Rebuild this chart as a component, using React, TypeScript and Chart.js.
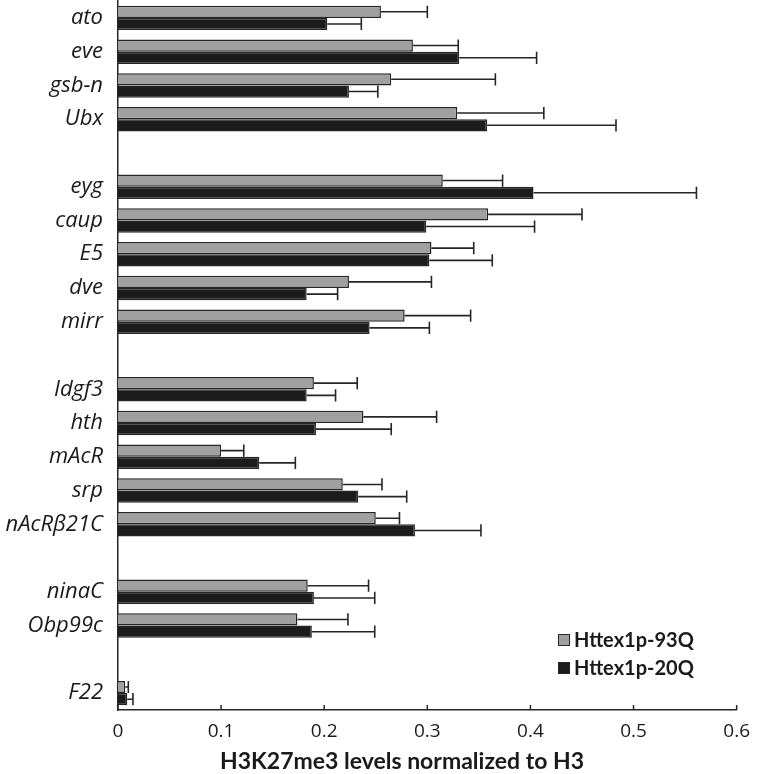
import React, { useEffect, useRef } from "react";
import { Chart, registerables } from "chart.js";

Chart.register(...registerables);

const genes = ["ato", "eve", "gsb-n", "Ubx", "", "eyg", "caup", "E5", "dve", "mirr", "", "Idgf3", "hth", "mAcR", "srp", "nAcRβ21C", "", "ninaC", "Obp99c", "", "F22"];
const q93 = [0.255, 0.286, 0.265, 0.329, null, 0.315, 0.359, 0.304, 0.224, 0.278, null, 0.19, 0.238, 0.1, 0.218, 0.25, null, 0.184, 0.174, null, 0.007];
const q93Err = [0.045, 0.044, 0.101, 0.084, null, 0.058, 0.091, 0.041, 0.08, 0.064, null, 0.042, 0.071, 0.022, 0.038, 0.023, null, 0.059, 0.049, null, 0.003];
const q20 = [0.203, 0.331, 0.224, 0.358, null, 0.403, 0.299, 0.302, 0.183, 0.244, null, 0.183, 0.192, 0.137, 0.233, 0.288, null, 0.19, 0.188, null, 0.009];
const q20Err = [0.033, 0.075, 0.028, 0.125, null, 0.158, 0.105, 0.061, 0.03, 0.058, null, 0.028, 0.073, 0.035, 0.047, 0.064, null, 0.059, 0.061, null, 0.0055];
const seriesNames = ["Httex1p-93Q", "Httex1p-20Q"];
const seriesColors = ["#a0a0a0", "#1c1c1c"];
const xTicks = [0, 0.1, 0.2, 0.3, 0.4, 0.5, 0.6];
const axisTitle = "H3K27me3 levels normalized to H3";

const errs = [q93Err, q20Err];
const INK = "#262626";

const errorBarPlugin = {
  id: "errorBars",
  afterDatasetsDraw(chart: any) {
    const ctx = chart.ctx;
    const xs = chart.scales.x;
    ctx.save();
    ctx.strokeStyle = INK;
    ctx.lineWidth = 1.6;
    chart.data.datasets.forEach((ds: any, i: number) => {
      const meta = chart.getDatasetMeta(i);
      meta.data.forEach((el: any, j: number) => {
        const v = ds.data[j];
        const e = errs[i][j];
        if (v == null || e == null) return;
        const x0 = xs.getPixelForValue(v);
        const x1 = xs.getPixelForValue(v + e);
        const y = el.y;
        const h = el.height / 2;
        ctx.beginPath();
        ctx.moveTo(x0, y);
        ctx.lineTo(x1, y);
        ctx.moveTo(x1, y - h);
        ctx.lineTo(x1, y + h);
        ctx.stroke();
      });
    });
    ctx.restore();
  },
};

const decorPlugin = {
  id: "decor",
  afterDraw(chart: any) {
    const ctx = chart.ctx;
    const xs = chart.scales.x;
    const area = chart.chartArea;
    ctx.save();
    // inward tick marks on x axis
    ctx.strokeStyle = INK;
    ctx.lineWidth = 1.5;
    xTicks.forEach((t) => {
      const x = xs.getPixelForValue(t);
      ctx.beginPath();
      ctx.moveTo(x, area.bottom - 5);
      ctx.lineTo(x, area.bottom);
      ctx.stroke();
    });
    // axis title
    ctx.fillStyle = "#1a1a1a";
    ctx.font = "bold 23px Lato";
    ctx.textAlign = "center";
    ctx.textBaseline = "middle";
    ctx.fillText(axisTitle, 402, 762);
    // legend
    ctx.font = "bold 20px Lato";
    ctx.textAlign = "left";
    const rows = [640, 668];
    rows.forEach((y, i) => {
      ctx.fillStyle = seriesColors[i];
      ctx.fillRect(558.5, y - 5.5, 11, 11);
      ctx.strokeStyle = INK;
      ctx.lineWidth = 1;
      ctx.strokeRect(558.5, y - 5.5, 11, 11);
      ctx.fillStyle = "#1a1a1a";
      ctx.fillText(seriesNames[i], 574, y + 1);
    });
    ctx.restore();
  },
};

export default function App() {
  const ref = useRef<HTMLCanvasElement | null>(null);
  useEffect(() => {
    if (!ref.current) return;
    const chart = new Chart(ref.current, {
      type: "bar",
      data: {
        labels: genes,
        datasets: [
          {
            label: seriesNames[0],
            data: q93 as any,
            backgroundColor: seriesColors[0],
            borderColor: INK,
            borderWidth: 1.5,
            categoryPercentage: 0.725,
            barPercentage: 1.0,
          },
          {
            label: seriesNames[1],
            data: q20 as any,
            backgroundColor: seriesColors[1],
            borderColor: INK,
            borderWidth: 1.5,
            categoryPercentage: 0.725,
            barPercentage: 1.0,
          },
        ],
      },
      options: {
        indexAxis: "y",
        animation: false,
        responsive: true,
        maintainAspectRatio: false,
        layout: { padding: { top: 1, right: 21, bottom: 0, left: 0 } },
        plugins: {
          legend: { display: false },
          tooltip: { enabled: false },
        },
        scales: {
          x: {
            min: 0,
            max: 0.6,
            grid: { display: false, drawTicks: false },
            border: { display: true, color: INK, width: 1.5 },
            ticks: {
              stepSize: 0.1,
              padding: 10,
              color: "#1a1a1a",
              font: { family: "Open Sans", size: 19 },
              callback: (v: any) => String(Number(Number(v).toFixed(1))),
            },
            afterFit: (s: any) => {
              s.height = 64;
            },
          },
          y: {
            grid: { display: false, drawTicks: false },
            border: { display: true, color: INK, width: 1.5 },
            ticks: {
              autoSkip: false,
              padding: 15,
              color: "#1a1a1a",
              font: { family: "Open Sans", size: 22, style: "italic" },
            },
            afterFit: (s: any) => {
              s.width = 118;
              s.paddingTop = 0;
              s.paddingBottom = 0;
            },
          },
        },
      },
      plugins: [errorBarPlugin, decorPlugin],
    });
    return () => chart.destroy();
  }, []);
  return (
    <div style={{ position: "fixed", left: 0, top: 0, width: 760, height: 774, background: "#fff" }}>
      <canvas ref={ref} />
    </div>
  );
}
